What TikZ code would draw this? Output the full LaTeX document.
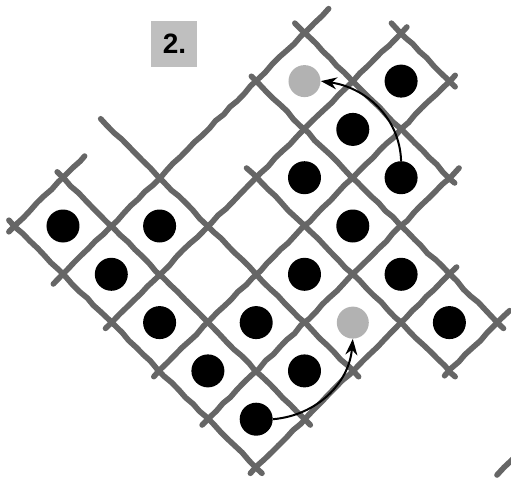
\documentclass[tikz,border=0pt]{standalone}
\usepackage{fontspec}
\newfontfamily\tagfont{Liberation Sans}
\usepackage{tikz}
\usetikzlibrary{arrows.meta,decorations.pathmorphing}

\begin{document}
\begin{tikzpicture}[x=0.5pt, y=0.5pt,
  %% ── Node styles ──────────────────────────────────────────────────────────
  %% ball : black counter, 33 px across
  %% hole : stippled free place, 32 px across
  ball/.style={circle, fill=black, inner sep=0pt, minimum size=16.5pt},
  hole/.style={circle, fill=black!30, inner sep=0pt, minimum size=16pt},
  numbox/.style={fill=black!25, inner sep=0pt, minimum size=23pt,
                 font=\tagfont\bfseries\fontsize{14}{16}\selectfont},
  %% ── Line styles ──────────────────────────────────────────────────────────
  rope/.style={line width=2.8pt, black!60, line cap=round, line join=round,
               decorate, decoration={random steps, segment length=5pt,
               amplitude=0.35pt}},
  arr/.style={-{Stealth[length=8pt, width=6pt]}, line width=1pt, black}
]
\pgfmathsetseed{7}
\useasboundingbox (0,0) rectangle (511,484);

%% ── Figure number ───────────────────────────────────────────────────────────
\node[numbox] (num) at (174.5,440.5) {2.};

%% ── Board  (cell (i,j): i runs up-right, j runs down-right) ─────────────────
\begin{scope}[shift={(63,258)}, x={(24.15pt,24.15pt)}, y={(24.15pt,-24.15pt)}]
  %% lines of constant j
  \draw[rope] (-0.62,-0.5) -- (0.95,-0.5);
  \draw[rope] (-0.70, 0.5) -- (5.00, 0.5);
  \draw[rope] (-0.62, 1.5) -- (5.62, 1.5);
  \draw[rope] (-0.62, 2.5) -- (5.62, 2.5);
  \draw[rope] (-0.62, 3.5) -- (4.70, 3.5);
  \draw[rope] (-0.62, 4.5) -- (3.65, 4.5);
  \draw[rope] ( 2.40, 5.5) -- (3.75, 5.5);
  %% lines of constant i
  \draw[rope] (-0.5,-0.62) -- (-0.5,4.62);
  \draw[rope] ( 0.5,-0.62) -- ( 0.5,4.62);
  \draw[rope] ( 1.5,-0.72) -- ( 1.5,4.62);
  \draw[rope] ( 2.5, 1.30) -- ( 2.5,5.62);
  \draw[rope] ( 3.5, 0.40) -- ( 3.5,5.62);
  \draw[rope] ( 4.5, 0.30) -- ( 4.5,3.62);
  \draw[rope] ( 5.5, 1.30) -- ( 5.5,2.62);

  %% counters
  \node[ball] (d00) at (0,0) {};
  \node[ball] (d01) at (0,1) {};
  \node[ball] (d02) at (0,2) {};
  \node[ball] (d03) at (0,3) {};
  \node[ball] (d04) at (0,4) {};
  \node[ball] (d11) at (1,1) {};
  \node[ball] (d13) at (1,3) {};
  \node[ball] (d14) at (1,4) {};
  \node[ball] (d23) at (2,3) {};
  \node[ball] (d32) at (3,2) {};
  \node[ball] (d33) at (3,3) {};
  \node[ball] (d34) at (3,4) {};
  \node[ball] (d35) at (3,5) {};
  \node[ball] (d42) at (4,2) {};
  \node[ball] (d43) at (4,3) {};
  \node[ball] (d52) at (5,2) {};

  %% free places
  \node[hole] (g41) at (4,1) {};
  \node[hole] (g24) at (2,4) {};
\end{scope}

%% ── Stroke of the next board, cut by the edge ───────────────────────────────
\draw[rope] (497,9) -- (514,26);

%% ── Moves ───────────────────────────────────────────────────────────────────
\draw[arr] (d43.north) to[out=92, in=-8] (g41.east);
\draw[arr] (d04.east)  to[out=5, in=-95]  (g24.south);

\end{tikzpicture}
\end{document}
